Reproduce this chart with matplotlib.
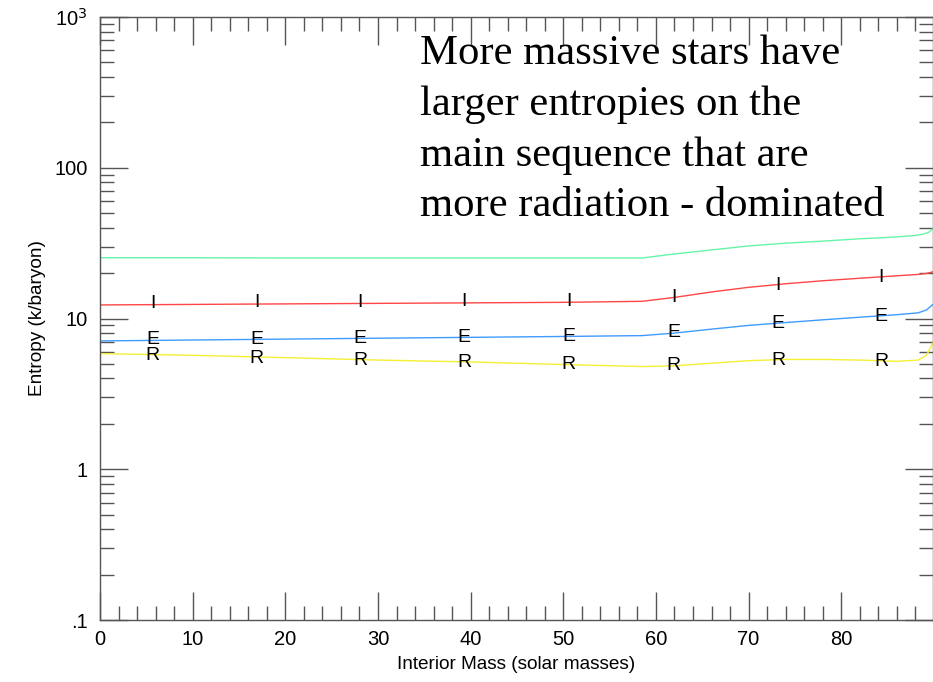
import numpy as np
import matplotlib
matplotlib.use("Agg")
import matplotlib.pyplot as plt
from matplotlib.ticker import FixedLocator, FixedFormatter, MultipleLocator, LogLocator, NullFormatter

# curves (interior mass in solar masses, entropy in k/baryon)
mass_tot = [0, 10, 20, 30, 40, 50, 58.5, 62, 66, 70, 74, 78, 82, 85, 87.5, 88.8, 89.5, 89.9]
s_tot = [25.3, 25.3, 25.2, 25.2, 25.2, 25.2, 25.2, 26.8, 28.5, 30.3, 31.6, 32.6, 33.8, 34.5, 35.3, 36.2, 37.5, 39.5]

mass = [0, 10, 20, 30, 40, 50, 58.5, 62, 66, 70, 74, 78, 82, 86, 88.3, 89.2, 89.9]
s_ion = [12.3, 12.4, 12.5, 12.6, 12.7, 12.8, 13.0, 13.8, 15.0, 16.1, 17.0, 17.8, 18.5, 19.2, 19.6, 19.9, 20.4]
s_ele = [7.1, 7.2, 7.3, 7.4, 7.5, 7.6, 7.7, 8.0, 8.5, 9.0, 9.4, 9.8, 10.2, 10.6, 10.9, 11.4, 12.4]
s_rad = [5.85, 5.7, 5.5, 5.3, 5.15, 4.95, 4.8, 4.85, 5.05, 5.25, 5.35, 5.35, 5.3, 5.2, 5.3, 5.7, 6.9]

# letter symbols along the curves
mass_sym = [5.7, 16.9, 28.1, 39.3, 50.6, 61.9, 73.2, 84.3]
sym_ion = [12.5, 12.7, 12.7, 12.9, 12.9, 13.7, 16.5, 18.7]
sym_ele = [7.23, 7.23, 7.35, 7.46, 7.57, 8.05, 9.23, 10.3]
sym_rad = [5.66, 5.41, 5.25, 5.09, 4.94, 4.86, 5.25, 5.16]

fig = plt.figure(figsize=(9.33, 6.82), dpi=100)
ax = fig.add_axes([100 / 933, 1 - 620 / 682, 833 / 933, 603 / 682])

ax.plot(mass_tot, s_tot, color="#66f5a8", lw=1)
ax.plot(mass, s_ion, color="#ff4545", lw=1)
ax.plot(mass, s_ele, color="#3f9bff", lw=1)
ax.plot(mass, s_rad, color="#f5f032", lw=1)

for xs, ys, ch in [(mass_sym, sym_ion, "I"), (mass_sym, sym_ele, "E"), (mass_sym, sym_rad, "R")]:
    for x, y in zip(xs, ys):
        ax.text(x, y, ch, ha="center", va="center", fontsize=14, color="black",
                family="Liberation Sans")

ax.set_yscale("log")
ax.set_xlim(0, 89.9)
ax.set_ylim(0.1, 1000)

ax.xaxis.set_major_locator(MultipleLocator(10))
ax.xaxis.set_minor_locator(MultipleLocator(2))
ax.yaxis.set_major_locator(FixedLocator([0.1, 1, 10, 100, 1000]))
ax.yaxis.set_major_formatter(FixedFormatter([".1", "1", "10", "100", r"10$^3$"]))
ax.yaxis.set_minor_locator(LogLocator(base=10, subs=np.arange(2, 10)))
ax.yaxis.set_minor_formatter(NullFormatter())

ax.tick_params(which="both", direction="in", top=True, right=True, color="#555555",
               labelsize=14.5, labelcolor="black")
ax.tick_params(which="major", length=20, width=1)
ax.tick_params(which="minor", length=10, width=1)
for lab in ax.get_xticklabels() + ax.get_yticklabels():
    lab.set_family("Liberation Sans")
ax.tick_params(axis="x", pad=7)
ax.tick_params(axis="y", pad=9)
for sp in ax.spines.values():
    sp.set_color("#555555")
    sp.set_linewidth(1)

ax.set_xlabel("Interior Mass (solar masses)", fontsize=13.7, family="Liberation Sans", labelpad=5)
ax.set_ylabel("Entropy (k/baryon)", fontsize=13.7, family="Liberation Sans", labelpad=6)

fig.text(420 / 933, 1 - 35 / 682,
         "More massive stars have\nlarger entropies on the\nmain sequence that are\nmore radiation - dominated",
         ha="left", va="top", fontsize=30.7, family="Liberation Serif", linespacing=1.41)

fig.savefig("out.png", dpi=100)
